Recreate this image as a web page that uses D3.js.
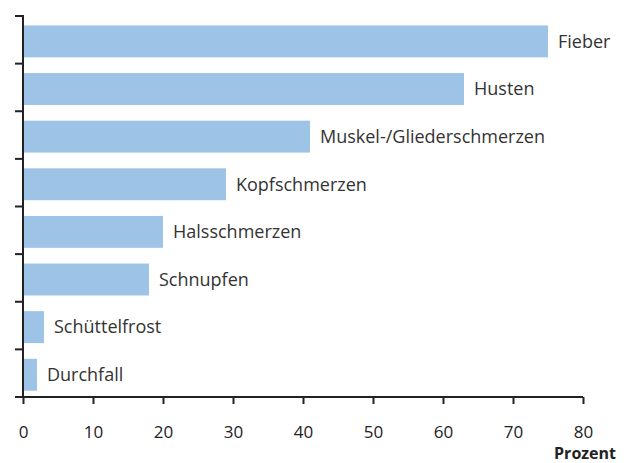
<!DOCTYPE html>
<html>
<head>
<meta charset="utf-8">
<script src="https://cdn.jsdelivr.net/npm/d3@7"></script>
<style>
  body { margin: 0; background: #fff; }
  svg { display: block; }
</style>
</head>
<body>
<div id="chart"></div>
<script>
// Symptome in Prozent
const categories = ["Fieber", "Husten", "Muskel-/Gliederschmerzen", "Kopfschmerzen",
                    "Halsschmerzen", "Schnupfen", "Schüttelfrost", "Durchfall"];
const values = [75, 63, 41, 29, 20, 18, 3, 2];
const xTicks = [0, 10, 20, 30, 40, 50, 60, 70, 80];

const W = 627, H = 463;
const x0 = 23, x1 = 583, yTop = 16, yBottom = 397;

const svg = d3.select("#chart")
  .append("svg")
  .attr("width", W)
  .attr("height", H);

const x = d3.scaleLinear().domain([0, 80]).range([x0, x1]);
const y = d3.scaleBand().domain(categories).range([yTop, yBottom])
  .paddingInner(0.33).paddingOuter(0.165).align(0.6);

// bars
svg.selectAll("rect.bar")
  .data(categories)
  .enter()
  .append("rect")
  .attr("class", "bar")
  .attr("x", x(0) + 1)
  .attr("y", d => y(d))
  .attr("width", (d, i) => x(values[i]) - x(0) - 1)
  .attr("height", y.bandwidth())
  .style("fill", "#9dc3e6");

// labels next to bars
svg.selectAll("text.lbl")
  .data(categories)
  .enter()
  .append("text")
  .attr("class", "lbl")
  .attr("x", (d, i) => x(values[i]) + 10)
  .attr("y", d => y(d) + y.bandwidth() / 2)
  .attr("dy", "0.35em")
  .style("font-family", "'Open Sans', sans-serif")
  .style("font-size", "18px")
  .style("fill", "#333")
  .text(d => d);

// x axis
const xAxis = svg.append("g")
  .attr("transform", `translate(0,${yBottom})`)
  .call(d3.axisBottom(x).tickValues(xTicks).tickSize(7).tickPadding(22).tickSizeOuter(0));
xAxis.select(".domain").attr("stroke", "#222").attr("stroke-width", 2)
  .attr("d", `M${x0 - 8},0H${x1}`);
xAxis.selectAll(".tick line").attr("stroke", "#222").attr("stroke-width", 2);
xAxis.selectAll("text")
  .style("font-family", "'Open Sans', sans-serif")
  .style("font-size", "17px")
  .style("fill", "#222");

// y axis with ticks between bands
const bandEdges = d3.range(categories.length + 1)
  .map(i => yTop + i * (yBottom - yTop) / categories.length);
const yAxis = svg.append("g");
yAxis.append("line")
  .attr("x1", x0).attr("x2", x0)
  .attr("y1", yTop - 1).attr("y2", yBottom)
  .attr("stroke", "#222").attr("stroke-width", 2);
yAxis.selectAll("line.tick")
  .data(bandEdges)
  .enter()
  .append("line")
  .attr("class", "tick")
  .attr("x1", x0 - 8).attr("x2", x0)
  .attr("y1", d => d).attr("y2", d => d)
  .attr("stroke", "#222").attr("stroke-width", 2);

// axis title
svg.append("text")
  .attr("x", 616)
  .attr("y", 459)
  .attr("text-anchor", "end")
  .style("font-family", "'Open Sans', sans-serif")
  .style("font-size", "16px")
  .style("font-weight", "bold")
  .style("fill", "#222")
  .text("Prozent");
</script>
</body>
</html>
